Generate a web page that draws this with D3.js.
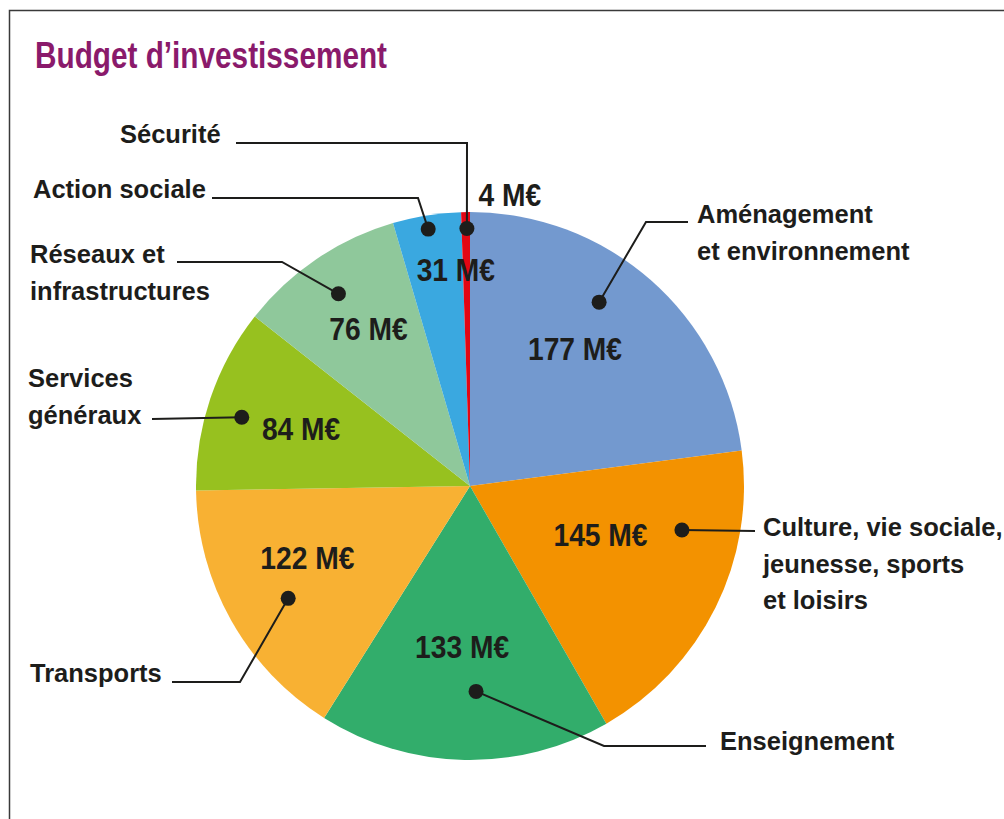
<!DOCTYPE html>
<html>
<head>
<meta charset="utf-8">
<script src="https://cdn.jsdelivr.net/npm/d3@7"></script>
<style>
  body { margin: 0; background: #fff; }
  .label { font-family: "Liberation Sans", Arial, sans-serif; font-weight: bold; font-size: 25.5px; fill: #1d1d1b; }
  .value { font-family: "Liberation Sans", Arial, sans-serif; font-weight: bold; font-size: 31px; fill: #1d1d1b; }
  .title { font-family: "Liberation Sans", Arial, sans-serif; font-weight: bold; font-size: 36px; fill: #8a1a6b; }
</style>
</head>
<body>
<div id="vis"></div>
<script>
const FRAME_WIDTH = 1004;
const FRAME_HEIGHT = 819;
const CENTER = {x: 470, y: 486};
const RADIUS = 274;

// data (M€)
const categories = ["Aménagement et environnement", "Culture, vie sociale, jeunesse, sports et loisirs",
  "Enseignement", "Transports", "Services généraux", "Réseaux et infrastructures",
  "Action sociale", "Sécurité"];
const values = [177, 145, 133, 122, 84, 76, 31, 4];
const valueLabels = ["177 M€", "145 M€", "133 M€", "122 M€", "84 M€", "76 M€", "31 M€", "4 M€"];
const colors = ["#7399cf", "#f39200", "#32ad6b", "#f8b133", "#97c11f", "#8fc89b", "#3aa8e0", "#e30613"];
const labelLines = [
  ["Aménagement", "et environnement"],
  ["Culture, vie sociale,", "jeunesse, sports", "et loisirs"],
  ["Enseignement"],
  ["Transports"],
  ["Services", "généraux"],
  ["Réseaux et", "infrastructures"],
  ["Action sociale"],
  ["Sécurité"]
];

// annotation layout: dot / value position inside the slice (t = share of slice angle, r = share of radius),
// label anchor and leader line elbow
const layout = [
  {dot: [0.425, 0.82], val: [0.454, 0.63], lx: 697, ly: 223, lead: [[688, 222], [646, 222]]},
  {dot: [0.284, 0.79], val: [0.42, 0.51], lx: 763, ly: 536, lead: [[755, 531]]},
  {dot: [0.454, 0.75], val: [0.526, 0.59], lx: 720, ly: 750, lead: [[706, 746], [604, 746]]},
  {dot: [0.459, 0.78], val: [0.593, 0.65], lx: 30, ly: 682, lead: [[172, 682], [240, 682]]},
  {dot: [0.452, 0.87], val: [0.496, 0.65], lx: 28, ly: 387, lead: [[152, 419]]},
  {dot: [0.49, 0.85], val: [0.53, 0.68], lx: 30, ly: 263, lead: [[177, 262], [282, 262]]},
  {dot: [0.49, 0.95], val: [0.87, 0.79], lx: 33, ly: 198, lead: [[212, 198], [418, 198]]},
  {dot: [0.63, 0.94], val: [5.2, 1.07], lx: 120, ly: 143, lead: [[236, 143], [467, 143]]}
];

const svg = d3.select("#vis")
  .append("svg")
    .attr("width", FRAME_WIDTH)
    .attr("height", FRAME_HEIGHT);

// frame
svg.append("rect")
  .attr("x", 9.5).attr("y", 10.5)
  .attr("width", 1100).attr("height", 900)
  .attr("fill", "none")
  .attr("stroke", "#3a3a3a")
  .attr("stroke-width", 1.5);

// condensed look: squeeze the glyphs horizontally
function condense(sel, factor) {
  sel.each(function () {
    const w = this.getComputedTextLength();
    d3.select(this)
      .attr("textLength", w * factor)
      .attr("lengthAdjust", "spacingAndGlyphs");
  });
}

svg.append("text")
  .attr("class", "title")
  .attr("x", 35).attr("y", 68)
  .text("Budget d’investissement")
  .attr("textLength", 352)
  .attr("lengthAdjust", "spacingAndGlyphs");

const pie = d3.pie().sort(null).value((d) => d);
const arcs = pie(values);
const arc = d3.arc().innerRadius(0).outerRadius(RADIUS);

const g = svg.append("g")
  .attr("transform", `translate(${CENTER.x},${CENTER.y})`);

g.selectAll("path.slice")
  .data(arcs)
  .enter()
  .append("path")
    .attr("class", "slice")
    .attr("d", arc)
    .attr("fill", (d, i) => colors[i]);

// point at a given share of the slice angle and of the radius, in page coordinates
function polar(d, t, r) {
  const a = d.startAngle + (d.endAngle - d.startAngle) * t;
  return [CENTER.x + Math.sin(a) * r * RADIUS, CENTER.y - Math.cos(a) * r * RADIUS];
}

// leader lines, dots, values and labels
arcs.forEach((d, i) => {
  const L = layout[i];
  const dot = polar(d, L.dot[0], L.dot[1]);
  const pts = [...L.lead, dot];
  svg.append("path")
    .attr("d", d3.line()(pts))
    .attr("fill", "none")
    .attr("stroke", "#1d1d1b")
    .attr("stroke-width", 2);
  svg.append("circle")
    .attr("cx", dot[0]).attr("cy", dot[1])
    .attr("r", 7.5)
    .attr("fill", "#1d1d1b");

  const vp = polar(d, L.val[0], L.val[1]);
  svg.append("text")
    .attr("class", "value")
    .attr("x", vp[0]).attr("y", vp[1])
    .attr("text-anchor", "middle")
    .attr("dominant-baseline", "central")
    .text(valueLabels[i])
    .call(condense, 0.91);

  const t = svg.append("text")
    .attr("class", "label")
    .attr("x", L.lx).attr("y", L.ly);
  labelLines[i].forEach((line, j) => {
    t.append("tspan")
      .attr("x", L.lx)
      .attr("dy", j === 0 ? 0 : 36.5)
      .text(line);
  });
});
</script>
</body>
</html>
